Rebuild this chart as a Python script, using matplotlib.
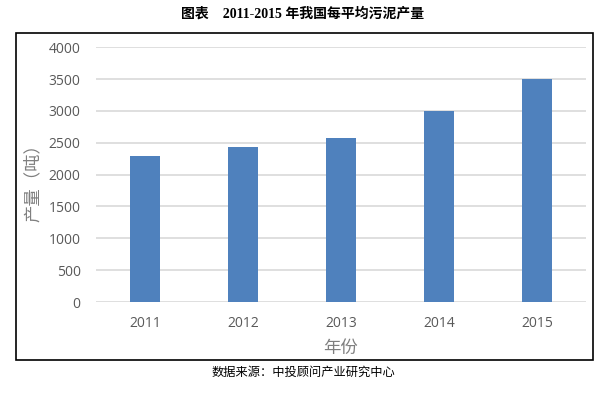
import matplotlib
matplotlib.use("Agg")
import matplotlib.pyplot as plt
from matplotlib.patches import Rectangle

years = ["2011", "2012", "2013", "2014", "2015"]
values = [2290, 2440, 2570, 3000, 3500]
yticks = [0, 500, 1000, 1500, 2000, 2500, 3000, 3500, 4000]

title = "图表    2011-2015 年我国每平均污泥产量"
ylabel = "产量（吨）"
xlabel = "年份"
source = "数据来源：中投顾问产业研究中心"

W, H = 611, 393
fig = plt.figure(figsize=(W / 100, H / 100), dpi=100)
fig.patch.set_facecolor("white")

ax = fig.add_axes([96 / W, 1 - 302 / H, 490 / W, (302 - 47.3) / H])
x = list(range(len(years)))
ax.bar(x, values, width=0.316, color="#4f81bd", zorder=3)
ax.set_xlim(-0.5, len(years) - 0.5)
ax.set_ylim(0, 4000)
ax.set_yticks(yticks)
ax.set_xticks(x)
ax.set_xticklabels(years)
ax.grid(axis="y", color="#d9d9d9", linewidth=1.2, zorder=0)
ax.set_axisbelow(True)
for s in ax.spines.values():
    s.set_visible(False)
ax.tick_params(axis="both", length=0, colors="#595959", labelsize=10)
ax.tick_params(axis="y", pad=11)
ax.tick_params(axis="x", pad=10)
for lab in ax.get_xticklabels() + ax.get_yticklabels():
    lab.set_family(["Open Sans", "DejaVu Sans"])

fig.text(33 / W, 1 - 179 / H, ylabel, rotation=90, ha="center", va="center",
         color="#7f7f7f", fontsize=12.5, family=["Noto Sans CJK SC", "DejaVu Sans"])
fig.text(340 / W, 1 - 348 / H, xlabel, ha="center", va="center",
         color="#7f7f7f", fontsize=12.5, family=["Noto Sans CJK SC", "DejaVu Sans"])

fig.text(303 / W, 1 - 14 / H, title, ha="center", va="center", fontsize=10,
         fontweight="bold", color="black",
         family=["Liberation Serif", "Noto Sans CJK SC"])
fig.text(303 / W, 1 - 372 / H, source, ha="center", va="center", fontsize=8.8,
         color="black", family=["Noto Sans CJK SC", "DejaVu Sans"])

fig.add_artist(Rectangle((15.5 / W, 1 - 360 / H), 577 / W, 327 / H,
                         transform=fig.transFigure, fill=False,
                         edgecolor="black", linewidth=1.2))

fig.savefig("out.png", dpi=100)
